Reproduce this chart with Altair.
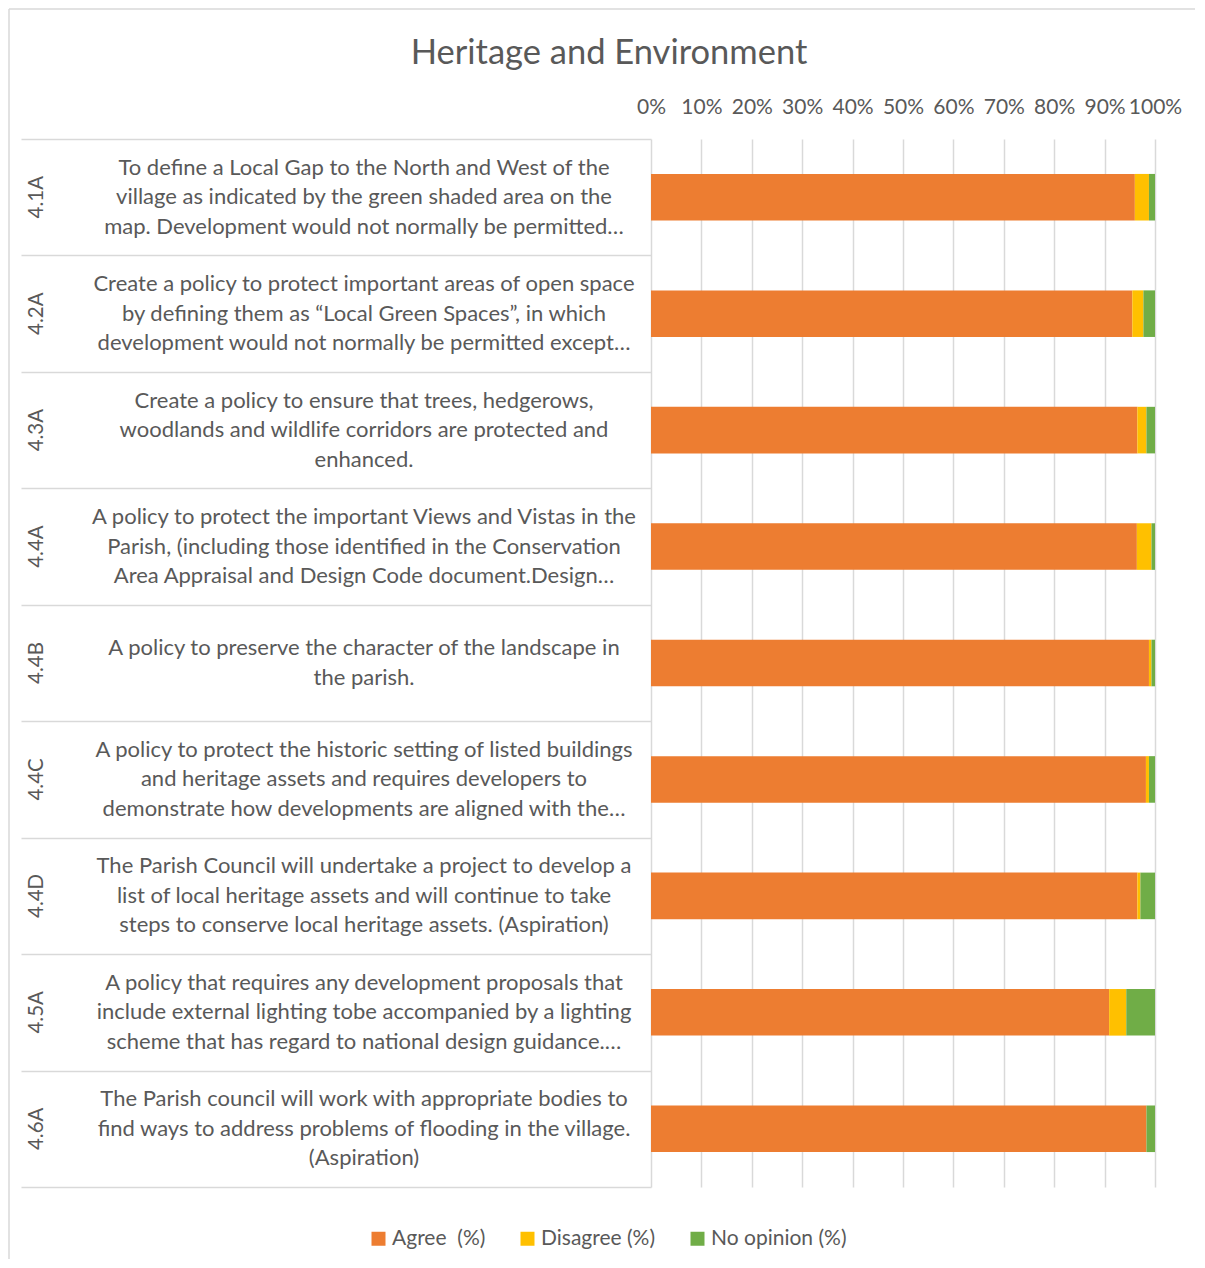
import altair as alt
import pandas as pd

codes = ["4.1A", "4.2A", "4.3A", "4.4A", "4.4B", "4.4C", "4.4D", "4.5A", "4.6A"]
descriptions = [
    "To define a Local Gap to the North and West of the\nvillage as indicated by the green shaded area on the\nmap. Development would not normally be permitted…",
    "Create a policy to protect important areas of open space\nby defining them as “Local Green Spaces”, in which\ndevelopment would not normally be permitted except…",
    "Create a policy to ensure that trees, hedgerows,\nwoodlands and wildlife corridors are protected and\nenhanced.",
    "A policy to protect the important Views and Vistas in the\nParish, (including those identified in the Conservation\nArea Appraisal and Design Code document.Design…",
    "A policy to preserve the character of the landscape in\nthe parish.",
    "A policy to protect the historic setting of listed buildings\nand heritage assets and requires developers to\ndemonstrate how developments are aligned with the…",
    "The Parish Council will undertake a project to develop a\nlist of local heritage assets and will continue to take\nsteps to conserve local heritage assets. (Aspiration)",
    "A policy that requires any development proposals that\ninclude external lighting tobe accompanied by a lighting\nscheme that has regard to national design guidance.…",
    "The Parish council will work with appropriate bodies to\nfind ways to address problems of flooding in the village.\n(Aspiration)",
]
agree = [96.0, 95.5, 96.5, 96.4, 98.8, 98.2, 96.5, 90.9, 98.3]
disagree = [2.8, 2.2, 1.8, 2.9, 0.5, 0.6, 0.6, 3.4, 0.0]
no_opinion = [1.2, 2.3, 1.7, 0.7, 0.7, 1.2, 2.9, 5.7, 1.7]
series = ["Agree \u00a0(%)", "Disagree (%)", "No opinion (%)"]
colors = ["#ED7D31", "#FFC000", "#70AD47"]
tick_values = [0, 10, 20, 30, 40, 50, 60, 70, 80, 90, 100]
title_text = ["Heritage and Environment"]

FONT = "Lato"
GREY = "#595959"
LINE = "#d9d9d9"
LH = 29.5

rows = []
for i, c in enumerate(codes):
    for k, (s, vals) in enumerate(zip(series, [agree, disagree, no_opinion])):
        rows.append({"code": c, "series": s, "value": vals[i], "order": k})
long_df = pd.DataFrame(rows)
label_df = pd.DataFrame({"code": codes, "desc": descriptions})
title_df = pd.DataFrame({"t": title_text})

y_enc = alt.Y(
    "code:N",
    sort=codes,
    scale=alt.Scale(paddingInner=0, paddingOuter=0),
    axis=alt.Axis(
        labels=False, ticks=True, tickBand="extent", tickSize=630,
        tickColor=LINE, tickWidth=1.5, domain=False, grid=False, title=None,
    ),
)

bars = alt.Chart(long_df).mark_bar(height={"band": 0.4}).encode(
    x=alt.X(
        "value:Q",
        stack="zero",
        scale=alt.Scale(domain=[0, 100], nice=False),
        axis=alt.Axis(
            orient="top", values=tick_values, labelExpr="datum.value + '%'",
            grid=True, gridColor=LINE, gridWidth=1.5, ticks=False, domain=False,
            labelFontSize=21, labelColor=GREY, labelFont=FONT, labelPadding=22,
            labelFlush=False, labelOverlap=False, title=None,
        ),
    ),
    y=y_enc,
    color=alt.Color(
        "series:N",
        scale=alt.Scale(domain=series, range=colors),
        legend=alt.Legend(
            title=None, orient="none", direction="horizontal",
            legendX=-283, legendY=1089, symbolType="square", symbolSize=196,
            symbolStrokeWidth=0, labelFontSize=21, labelFont=FONT, labelColor=GREY,
            labelOffset=3, columnPadding=31, padding=0,
        ),
    ),
    order=alt.Order("order:Q"),
)

code_text = alt.Chart(label_df).mark_text(
    angle=270, align="center", baseline="middle", fontSize=20.5, font=FONT, color=GREY
).encode(x=alt.value(-614), y=y_enc, text="code:N")

desc_base = alt.Chart(label_df).transform_calculate(
    nlines="split(datum.desc, '\\n').length"
)
desc3 = desc_base.transform_filter("datum.nlines == 3").mark_text(
    lineBreak="\n", align="center", baseline="middle", fontSize=22,
    lineHeight=LH, font=FONT, color=GREY, dy=-LH,
).encode(x=alt.value(-287), y=y_enc, text="desc:N")
desc2 = desc_base.transform_filter("datum.nlines == 2").mark_text(
    lineBreak="\n", align="center", baseline="middle", fontSize=22,
    lineHeight=LH, font=FONT, color=GREY, dy=-LH / 2,
).encode(x=alt.value(-287), y=y_enc, text="desc:N")

title_mark = alt.Chart(title_df).mark_text(
    align="center", baseline="middle", fontSize=34.5, font=FONT, color=GREY
).encode(x=alt.value(-42), y=alt.value(-85), text="t:N")

border_left = alt.Chart(title_df).mark_rule(color=LINE, strokeWidth=1.5).encode(
    x=alt.value(-642), y=alt.value(-130), y2=alt.value(1120)
)
border_top = alt.Chart(title_df).mark_rule(color=LINE, strokeWidth=1.5).encode(
    x=alt.value(-642), x2=alt.value(544), y=alt.value(-130)
)

chart = alt.layer(
    border_left, border_top, bars, code_text, desc3, desc2, title_mark
).properties(
    width=504,
    height=1048,
    padding={"left": 0, "top": 0, "right": 0, "bottom": 5},
).configure_view(strokeWidth=0)

chart.save("out.html", embed_options={"renderer": "svg", "actions": False})
